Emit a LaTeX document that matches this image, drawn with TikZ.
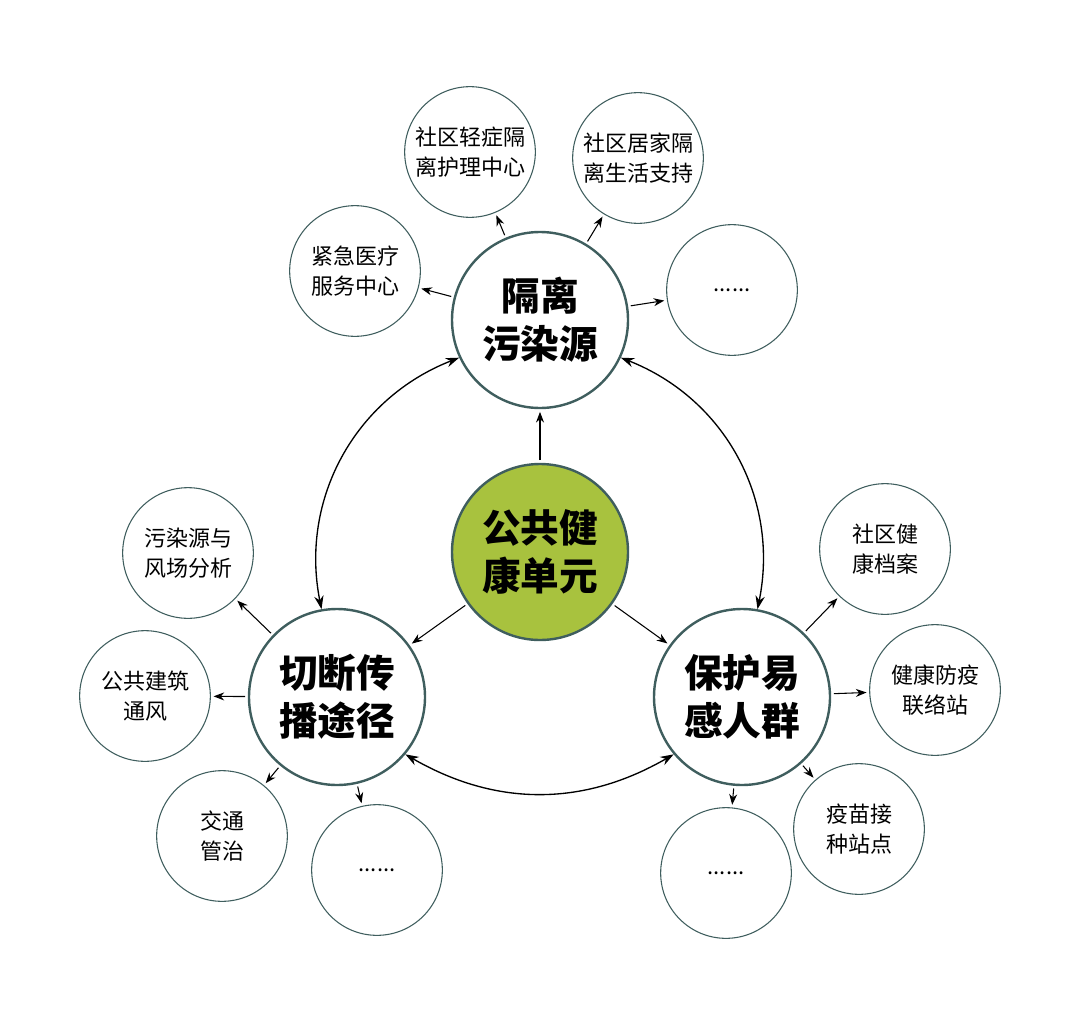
\documentclass[tikz,border=0pt]{standalone}
\usepackage{fontspec}
\setmainfont{Noto Sans CJK SC}
\usetikzlibrary{arrows.meta}
\definecolor{ringcol}{HTML}{3F5E5E}
\definecolor{unitgreen}{HTML}{A8C23E}
\begin{document}
\begin{tikzpicture}
[
    x=0.75pt, y=-0.75pt,
    bigc/.style={circle, draw=ringcol, line width=1.8pt, minimum size=132pt, align=center, font=\bfseries\fontsize{29}{36}\selectfont, inner sep=0pt},
    smallc/.style={circle, draw=ringcol, line width=0.8pt, minimum size=98pt, align=center, font=\fontsize{16.5}{22}\selectfont, inner sep=0pt},
    link/.style={-{Stealth[length=8pt,width=6pt]}, line width=0.8pt, shorten <=2pt, shorten >=2pt},
    loop/.style={{Stealth[length=10pt,width=7pt]}-{Stealth[length=10pt,width=7pt]}, line width=1pt},
]
\useasboundingbox (0,0) rectangle (1080,1027);
% main circles
\node [bigc, fill=unitgreen] (unit) at (540,552) {公共健\\康单元};
\node [bigc] (isolate) at (540,320) {隔离\\污染源};
\node [bigc] (cut) at (337,697) {切断传\\播途径};
\node [bigc] (protect) at (742,697) {保护易\\感人群};
% satellites
\node [smallc] (light) at (470,152) {社区轻症隔\\离护理中心};
\node [smallc] (home) at (638,158) {社区居家隔\\离生活支持};
\node [smallc] (emerg) at (355,271) {紧急医疗\\服务中心};
\node [smallc] (isoMore) at (732,290) {......};
\node [smallc] (wind) at (188,553) {污染源与\\风场分析};
\node [smallc] (vent) at (145,696) {公共建筑\\通风};
\node [smallc] (traffic) at (222,836) {交通\\管治};
\node [smallc] (cutMore) at (377,870) {......};
\node [smallc] (record) at (885,549) {社区健\\康档案};
\node [smallc] (liaison) at (935,690) {健康防疫\\联络站};
\node [smallc] (vaccine) at (859,829) {疫苗接\\种站点};
\node [smallc] (protMore) at (726,873) {......};
% connectors
\draw [link] (unit) -- (isolate);
\draw [link] (unit) -- (cut);
\draw [link] (unit) -- (protect);
\foreach \s in {light,home,emerg,isoMore} \draw [link] (isolate) -- (\s);
\foreach \s in {wind,vent,traffic,cutMore} \draw [link] (cut) -- (\s);
\foreach \s in {record,liaison,vaccine,protMore} \draw [link] (protect) -- (\s);
\draw [loop] (isolate.205) to[bend right=40] (cut.100);
\draw [loop] (isolate.335) to[bend left=40] (protect.80);
\draw [loop] (cut.320) to[bend right=30] (protect.220);
\end{tikzpicture}
\end{document}
